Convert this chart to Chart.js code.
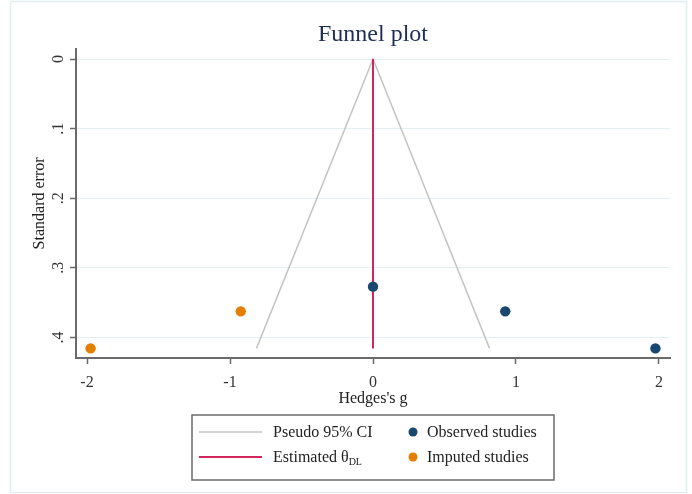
<!DOCTYPE html>
<html>
<head>
<meta charset="utf-8">
<title>Funnel plot</title>
<script src="https://cdn.jsdelivr.net/npm/chart.js@4.4.1/dist/chart.umd.min.js"></script>
<style>
  html, body { margin: 0; padding: 0; background: #ffffff; }
  canvas { display: block; }
</style>
</head>
<body>
<canvas id="funnel" width="692" height="494"></canvas>
<script>
// Study effect sizes (Hedges's g) and their standard errors
const observedG  = [0.00, 0.925, 1.975];
const observedSE = [0.327, 0.3625, 0.4157];
const imputedG   = [-0.925, -1.975];
const imputedSE  = [0.3625, 0.4157];

// Pseudo 95% confidence limits (funnel edges) and pooled estimate line
const funnelG  = [-0.815, 0, 0.815];
const funnelSE = [0.4157, 0, 0.4157];
const thetaG   = [0, 0];
const thetaSE  = [0, 0.4157];

// Axis ticks
const xTicks = [-2, -1, 0, 1, 2];
const yTicks = [0, 0.1, 0.2, 0.3, 0.4];

const SERIF = "'Liberation Serif', 'Times New Roman', serif";
const AXIS_GREY = '#6a6a6a';
const TEXT_GREY = '#333333';

const toPoints = (xs, ys) => xs.map((x, i) => ({ x: x, y: ys[i] }));

// Frame around the whole graph region
const framePlugin = {
  id: 'frame',
  beforeDraw(chart) {
    const ctx = chart.ctx;
    ctx.save();
    ctx.fillStyle = '#ffffff';
    ctx.fillRect(0, 0, chart.width, chart.height);
    ctx.strokeStyle = '#e2eef0';
    ctx.lineWidth = 1.5;
    ctx.strokeRect(10.5, 1.5, 676, 491);
    ctx.restore();
  }
};

// Boxed two-column legend below the x-axis title
const boxLegend = {
  id: 'boxLegend',
  afterDraw(chart) {
    const ctx = chart.ctx;
    const ds = chart.data.datasets;
    const cx = (chart.chartArea.left + chart.chartArea.right) / 2;
    const boxW = 362, boxH = 65, top = 415;
    const left = cx - boxW / 2;
    ctx.save();
    ctx.strokeStyle = '#6b6b6b';
    ctx.lineWidth = 1.5;
    ctx.strokeRect(left, top, boxW, boxH);

    const rows = [432, 457];
    const lines = ds.filter(d => d.legendKind === 'line');
    const dots = ds.filter(d => d.legendKind === 'dot');
    ctx.textBaseline = 'middle';
    ctx.textAlign = 'left';

    lines.forEach((d, i) => {
      const y = rows[i];
      ctx.strokeStyle = d.borderColor;
      ctx.lineWidth = d.borderWidth;
      ctx.beginPath();
      ctx.moveTo(left + 7, y);
      ctx.lineTo(left + 70, y);
      ctx.stroke();
      ctx.font = '16px ' + SERIF;
      ctx.fillStyle = '#222222';
      ctx.fillText(d.label, left + 81, y + 1);
      if (d.legendSub) {
        const w = ctx.measureText(d.label).width;
        ctx.font = '10px ' + SERIF;
        ctx.fillText(d.legendSub, left + 81 + w, y + 5);
      }
    });

    dots.forEach((d, i) => {
      const y = rows[i];
      ctx.fillStyle = d.backgroundColor;
      ctx.beginPath();
      ctx.arc(left + 221, y, 4.5, 0, Math.PI * 2);
      ctx.fill();
      ctx.font = '16px ' + SERIF;
      ctx.fillStyle = '#222222';
      ctx.fillText(d.label, left + 235, y + 1);
    });
    ctx.restore();
  }
};

new Chart(document.getElementById('funnel'), {
  type: 'scatter',
  data: {
    datasets: [
      {
        label: 'Observed studies',
        legendKind: 'dot',
        data: toPoints(observedG, observedSE),
        backgroundColor: '#1a476f',
        borderWidth: 0,
        pointRadius: 5.2,
        pointHoverRadius: 5.2,
        order: 1
      },
      {
        label: 'Imputed studies',
        legendKind: 'dot',
        data: toPoints(imputedG, imputedSE),
        backgroundColor: '#e37e00',
        borderWidth: 0,
        pointRadius: 5.2,
        pointHoverRadius: 5.2,
        order: 2
      },
      {
        label: 'Pseudo 95% CI',
        legendKind: 'line',
        data: toPoints(funnelG, funnelSE),
        showLine: true,
        borderColor: '#c4c4c4',
        borderWidth: 1.5,
        pointRadius: 0,
        order: 4
      },
      {
        label: 'Estimated \u03B8',
        legendSub: 'DL',
        legendKind: 'line',
        data: toPoints(thetaG, thetaSE),
        showLine: true,
        borderColor: '#d3265a',
        borderWidth: 2,
        pointRadius: 0,
        order: 3
      }
    ]
  },
  options: {
    responsive: false,
    devicePixelRatio: 1,
    animation: false,
    events: [],
    layout: { padding: { top: 0, left: 10, right: 22, bottom: 86 } },
    plugins: {
      legend: { display: false },
      tooltip: { enabled: false },
      title: {
        display: true,
        text: 'Funnel plot',
        fullSize: false,
        color: '#1f2d55',
        font: { family: SERIF, size: 24, weight: 'normal' },
        padding: { top: 20, bottom: 0 }
      }
    },
    scales: {
      x: {
        type: 'linear',
        min: -2.077,
        max: 2.077,
        afterBuildTicks: s => { s.ticks = xTicks.map(v => ({ value: v })); },
        afterFit: s => { s.height = 50; },
        border: { display: true, color: AXIS_GREY, width: 2 },
        grid: { drawOnChartArea: false, drawTicks: true, tickLength: 6, tickColor: AXIS_GREY, tickWidth: 1.5 },
        ticks: {
          color: TEXT_GREY,
          font: { family: SERIF, size: 16 },
          padding: 9,
          maxRotation: 0,
          callback: v => String(v)
        },
        title: {
          display: true,
          text: "Hedges's g",
          color: '#222222',
          font: { family: SERIF, size: 16 },
          padding: { top: 0, bottom: 0 }
        }
      },
      y: {
        type: 'linear',
        reverse: true,
        min: -0.0147,
        max: 0.4295,
        afterBuildTicks: s => { s.ticks = yTicks.map(v => ({ value: v })); },
        afterFit: s => { s.width = 66; },
        border: { display: true, color: AXIS_GREY, width: 2 },
        grid: { color: '#e4eff1', lineWidth: 1, drawTicks: true, tickLength: 6, tickColor: AXIS_GREY, tickWidth: 1.5 },
        ticks: {
          color: TEXT_GREY,
          font: { family: SERIF, size: 16 },
          padding: 5,
          minRotation: 90,
          maxRotation: 90,
          crossAlign: 'center',
          callback: v => (v === 0 ? '0' : String(+v.toFixed(1)).replace(/^0\./, '.'))
        },
        title: {
          display: true,
          text: 'Standard error',
          color: '#222222',
          font: { family: SERIF, size: 16 },
          padding: { top: 20, bottom: 0 }
        }
      }
    }
  },
  plugins: [framePlugin, boxLegend]
});
</script>
</body>
</html>
